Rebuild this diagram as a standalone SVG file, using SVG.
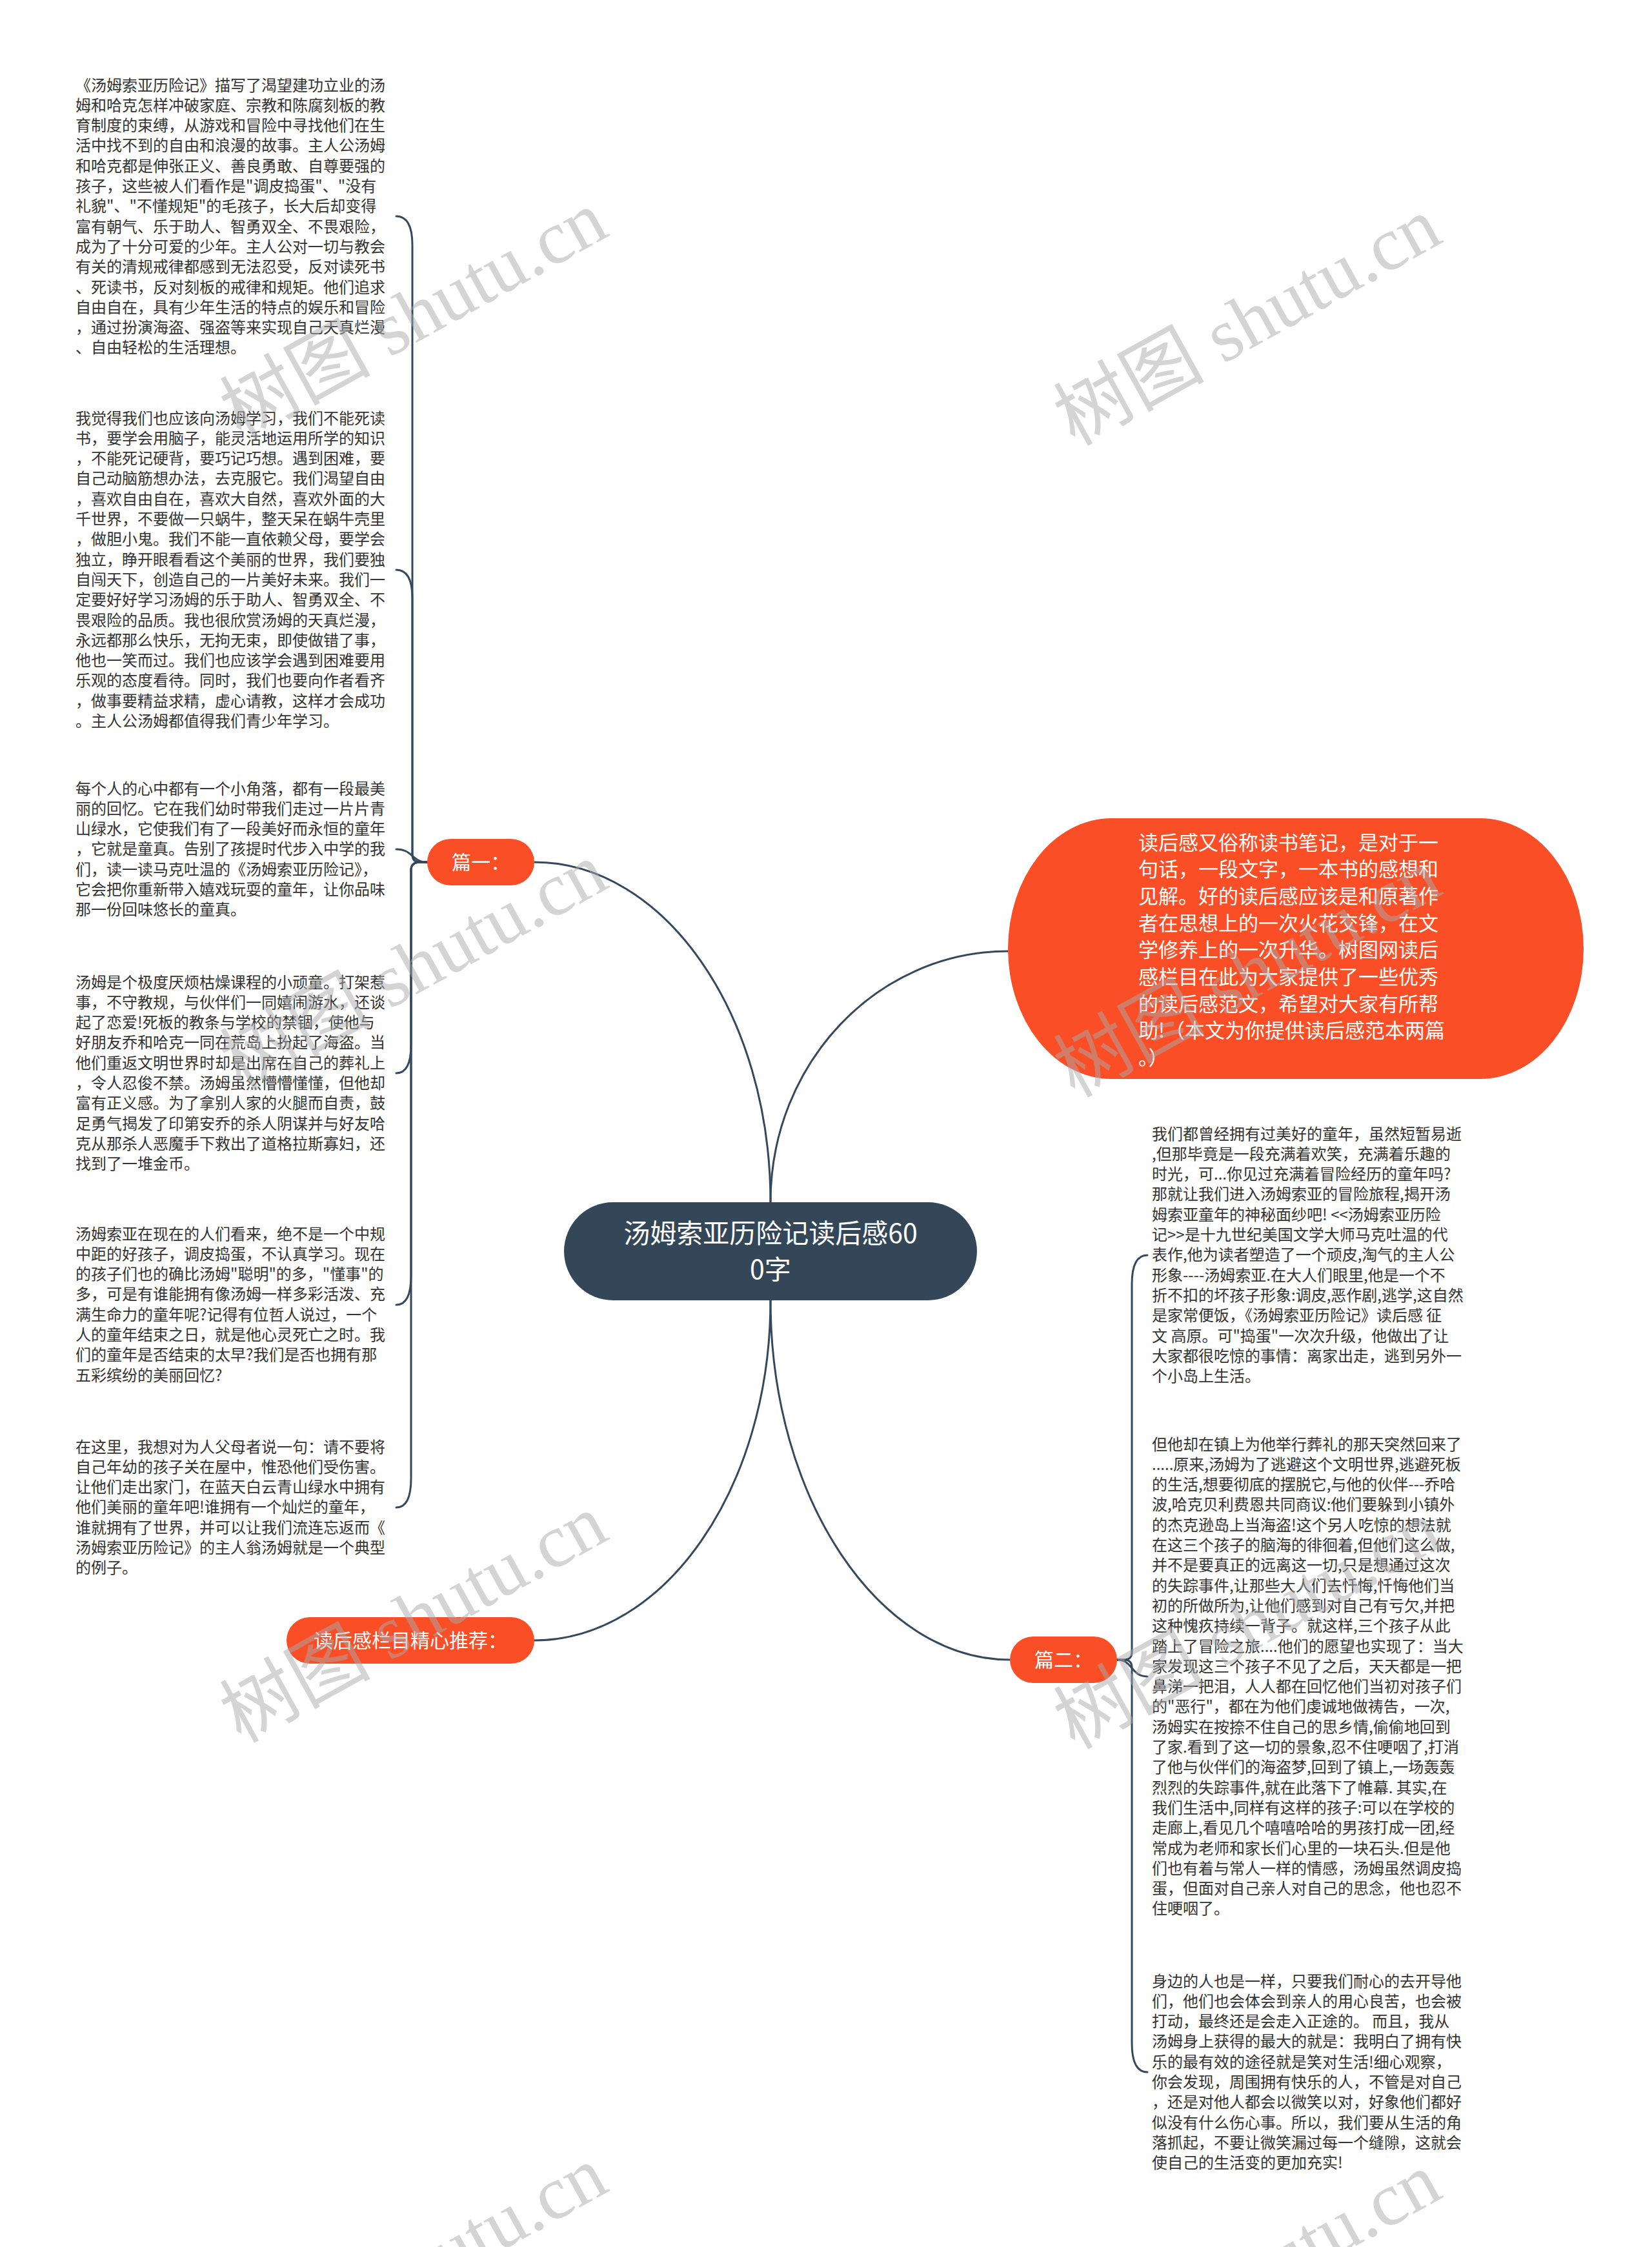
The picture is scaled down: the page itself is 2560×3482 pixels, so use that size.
<svg xmlns="http://www.w3.org/2000/svg" width="2560" height="3482" viewBox="0 0 2560 3482">
<style>
.bg{fill:#ffffff}
.conn{fill:none;stroke:#34495e;stroke-width:3;stroke-linecap:round}
.body{font-family:"Noto Sans CJK SC","Noto Sans",sans-serif;font-size:24px;fill:#333333}
.sum{font-family:"Noto Sans CJK SC","Noto Sans",sans-serif;font-size:31px;fill:#ffffff}
.title{font-family:"Noto Sans CJK SC","Noto Sans",sans-serif;font-size:41px;fill:#ffffff;text-anchor:middle}
.lab{font-family:"Noto Sans CJK SC","Noto Sans",sans-serif;font-size:30px;fill:#ffffff;text-anchor:middle}
.orange{fill:#fa4e26}
.dark{fill:#344759}
.wm{font-family:"Liberation Serif","Noto Sans CJK SC",serif;font-size:117px;fill:#aaaaaa;opacity:0.5}
</style>
<rect class="bg" x="0" y="0" width="2560" height="3482"/>

<g id="connectors">
  <path class="conn" d="M 828 1336 C 1030 1336, 1194 1572, 1194 1863"/>
  <path class="conn" d="M 1194 1863 C 1194 1648, 1359 1474, 1562 1474"/>
  <path class="conn" d="M 1194 2015 C 1194 2306, 1030 2542, 828 2542"/>
  <path class="conn" d="M 1194 2015 C 1194 2322, 1362 2572, 1565 2572"/>
  <path class="conn" d="M 662 1336 L 651 1336 Q 639 1336 639 1324 L 639 380 Q 639 335 614 335"/>
  <path class="conn" d="M 662 1336 L 651 1336 Q 639 1336 639 1324 L 639 927 Q 639 883 614 883"/>
  <path class="conn" d="M 662 1336 C 638 1336, 640 1316, 614 1316"/>
  <path class="conn" d="M 662 1336 L 651 1336 Q 637 1336 637 1348 L 637 1619 Q 637 1663 614 1663"/>
  <path class="conn" d="M 662 1336 L 651 1336 Q 637 1336 637 1348 L 637 1977 Q 637 2022 614 2022"/>
  <path class="conn" d="M 662 1336 L 651 1336 Q 637 1336 637 1348 L 637 2291 Q 637 2336 614 2336"/>
  <path class="conn" d="M 1731 2572 L 1742 2572 Q 1754 2572 1754 2560 L 1754 1990 Q 1754 1945 1778 1945"/>
  <path class="conn" d="M 1731 2572 C 1756 2572, 1752 2598, 1778 2598"/>
  <path class="conn" d="M 1731 2572 L 1742 2572 Q 1754 2572 1754 2584 L 1754 3166 Q 1754 3211 1778 3211"/>
</g>

<g id="node-root">
  <rect class="dark" x="874" y="1863" width="640" height="152" rx="76" ry="76"/>
  <text class="title" x="1194" y="1926">汤姆索亚历险记读后感60</text>
  <text class="title" x="1194" y="1982">0字</text>
</g>

<g id="node-summary">
  <rect class="orange" x="1562" y="1268" width="892" height="404" rx="160" ry="202"/>
  <text class="sum" x="1764" y="1316.5">
    <tspan x="1764">读后感又俗称读书笔记，是对于一</tspan>
    <tspan x="1764" dy="41.7">句话，一段文字，一本书的感想和</tspan>
    <tspan x="1764" dy="41.7">见解。好的读后感应该是和原著作</tspan>
    <tspan x="1764" dy="41.7">者在思想上的一次火花交锋，在文</tspan>
    <tspan x="1764" dy="41.7">学修养上的一次升华。树图网读后</tspan>
    <tspan x="1764" dy="41.7">感栏目在此为大家提供了一些优秀</tspan>
    <tspan x="1764" dy="41.7">的读后感范文，希望对大家有所帮</tspan>
    <tspan x="1764" dy="41.7">助!（本文为你提供读后感范本两篇</tspan>
    <tspan x="1764" dy="41.7">。）</tspan>
  </text>
</g>

<g id="node-pian1">
  <rect class="orange" x="662" y="1300" width="166" height="72" rx="36" ry="36"/>
  <text class="lab" x="745" y="1347">篇一：</text>
</g>

<g id="node-rec">
  <rect class="orange" x="444" y="2506" width="384" height="72" rx="36" ry="36"/>
  <text class="lab" x="636" y="2553">读后感栏目精心推荐：</text>
</g>

<g id="node-pian2">
  <rect class="orange" x="1565" y="2536" width="166" height="72" rx="36" ry="36"/>
  <text class="lab" x="1648" y="2583">篇二：</text>
</g>

<g id="node-l1">
  <text class="body" x="117" y="140.5">
    <tspan x="117">《汤姆索亚历险记》描写了渴望建功立业的汤</tspan>
    <tspan x="117" dy="31.3">姆和哈克怎样冲破家庭、宗教和陈腐刻板的教</tspan>
    <tspan x="117" dy="31.3">育制度的束缚，从游戏和冒险中寻找他们在生</tspan>
    <tspan x="117" dy="31.3">活中找不到的自由和浪漫的故事。主人公汤姆</tspan>
    <tspan x="117" dy="31.3">和哈克都是伸张正义、善良勇敢、自尊要强的</tspan>
    <tspan x="117" dy="31.3">孩子，这些被人们看作是"调皮捣蛋"、"没有</tspan>
    <tspan x="117" dy="31.3">礼貌"、"不懂规矩"的毛孩子，长大后却变得</tspan>
    <tspan x="117" dy="31.3">富有朝气、乐于助人、智勇双全、不畏艰险，</tspan>
    <tspan x="117" dy="31.3">成为了十分可爱的少年。主人公对一切与教会</tspan>
    <tspan x="117" dy="31.3">有关的清规戒律都感到无法忍受，反对读死书</tspan>
    <tspan x="117" dy="31.3">、死读书，反对刻板的戒律和规矩。他们追求</tspan>
    <tspan x="117" dy="31.3">自由自在，具有少年生活的特点的娱乐和冒险</tspan>
    <tspan x="117" dy="31.3">，通过扮演海盗、强盗等来实现自己天真烂漫</tspan>
    <tspan x="117" dy="31.3">、自由轻松的生活理想。</tspan>
  </text>
</g>

<g id="node-l2">
  <text class="body" x="117" y="656.5">
    <tspan x="117">我觉得我们也应该向汤姆学习，我们不能死读</tspan>
    <tspan x="117" dy="31.3">书，要学会用脑子，能灵活地运用所学的知识</tspan>
    <tspan x="117" dy="31.3">，不能死记硬背，要巧记巧想。遇到困难，要</tspan>
    <tspan x="117" dy="31.3">自己动脑筋想办法，去克服它。我们渴望自由</tspan>
    <tspan x="117" dy="31.3">，喜欢自由自在，喜欢大自然，喜欢外面的大</tspan>
    <tspan x="117" dy="31.3">千世界，不要做一只蜗牛，整天呆在蜗牛壳里</tspan>
    <tspan x="117" dy="31.3">，做胆小鬼。我们不能一直依赖父母，要学会</tspan>
    <tspan x="117" dy="31.3">独立，睁开眼看看这个美丽的世界，我们要独</tspan>
    <tspan x="117" dy="31.3">自闯天下，创造自己的一片美好未来。我们一</tspan>
    <tspan x="117" dy="31.3">定要好好学习汤姆的乐于助人、智勇双全、不</tspan>
    <tspan x="117" dy="31.3">畏艰险的品质。我也很欣赏汤姆的天真烂漫，</tspan>
    <tspan x="117" dy="31.3">永远都那么快乐，无拘无束，即使做错了事，</tspan>
    <tspan x="117" dy="31.3">他也一笑而过。我们也应该学会遇到困难要用</tspan>
    <tspan x="117" dy="31.3">乐观的态度看待。同时，我们也要向作者看齐</tspan>
    <tspan x="117" dy="31.3">，做事要精益求精，虚心请教，这样才会成功</tspan>
    <tspan x="117" dy="31.3">。主人公汤姆都值得我们青少年学习。</tspan>
  </text>
</g>

<g id="node-l3">
  <text class="body" x="117" y="1230.5">
    <tspan x="117">每个人的心中都有一个小角落，都有一段最美</tspan>
    <tspan x="117" dy="31.3">丽的回忆。它在我们幼时带我们走过一片片青</tspan>
    <tspan x="117" dy="31.3">山绿水，它使我们有了一段美好而永恒的童年</tspan>
    <tspan x="117" dy="31.3">，它就是童真。告别了孩提时代步入中学的我</tspan>
    <tspan x="117" dy="31.3">们，读一读马克吐温的《汤姆索亚历险记》，</tspan>
    <tspan x="117" dy="31.3">它会把你重新带入嬉戏玩耍的童年，让你品味</tspan>
    <tspan x="117" dy="31.3">那一份回味悠长的童真。</tspan>
  </text>
</g>

<g id="node-l4">
  <text class="body" x="117" y="1530.5">
    <tspan x="117">汤姆是个极度厌烦枯燥课程的小顽童。打架惹</tspan>
    <tspan x="117" dy="31.3">事，不守教规，与伙伴们一同嬉闹游水，还谈</tspan>
    <tspan x="117" dy="31.3">起了恋爱!死板的教条与学校的禁锢，使他与</tspan>
    <tspan x="117" dy="31.3">好朋友乔和哈克一同在荒岛上扮起了海盗。当</tspan>
    <tspan x="117" dy="31.3">他们重返文明世界时却是出席在自己的葬礼上</tspan>
    <tspan x="117" dy="31.3">，令人忍俊不禁。汤姆虽然懵懵懂懂，但他却</tspan>
    <tspan x="117" dy="31.3">富有正义感。为了拿别人家的火腿而自责，鼓</tspan>
    <tspan x="117" dy="31.3">足勇气揭发了印第安乔的杀人阴谋并与好友哈</tspan>
    <tspan x="117" dy="31.3">克从那杀人恶魔手下救出了道格拉斯寡妇，还</tspan>
    <tspan x="117" dy="31.3">找到了一堆金币。</tspan>
  </text>
</g>

<g id="node-l5">
  <text class="body" x="117" y="1920.5">
    <tspan x="117">汤姆索亚在现在的人们看来，绝不是一个中规</tspan>
    <tspan x="117" dy="31.3">中距的好孩子，调皮捣蛋，不认真学习。现在</tspan>
    <tspan x="117" dy="31.3">的孩子们也的确比汤姆"聪明"的多，"懂事"的</tspan>
    <tspan x="117" dy="31.3">多，可是有谁能拥有像汤姆一样多彩活泼、充</tspan>
    <tspan x="117" dy="31.3">满生命力的童年呢?记得有位哲人说过，一个</tspan>
    <tspan x="117" dy="31.3">人的童年结束之日，就是他心灵死亡之时。我</tspan>
    <tspan x="117" dy="31.3">们的童年是否结束的太早?我们是否也拥有那</tspan>
    <tspan x="117" dy="31.3">五彩缤纷的美丽回忆?</tspan>
  </text>
</g>

<g id="node-l6">
  <text class="body" x="117" y="2250.5">
    <tspan x="117">在这里，我想对为人父母者说一句：请不要将</tspan>
    <tspan x="117" dy="31.3">自己年幼的孩子关在屋中，惟恐他们受伤害。</tspan>
    <tspan x="117" dy="31.3">让他们走出家门，在蓝天白云青山绿水中拥有</tspan>
    <tspan x="117" dy="31.3">他们美丽的童年吧!谁拥有一个灿烂的童年，</tspan>
    <tspan x="117" dy="31.3">谁就拥有了世界，并可以让我们流连忘返而《</tspan>
    <tspan x="117" dy="31.3">汤姆索亚历险记》的主人翁汤姆就是一个典型</tspan>
    <tspan x="117" dy="31.3">的例子。</tspan>
  </text>
</g>

<g id="node-r1">
  <text class="body" x="1785" y="1765.5">
    <tspan x="1785">我们都曾经拥有过美好的童年，虽然短暂易逝</tspan>
    <tspan x="1785" dy="31.3">,但那毕竟是一段充满着欢笑，充满着乐趣的</tspan>
    <tspan x="1785" dy="31.3">时光，可...你见过充满着冒险经历的童年吗?</tspan>
    <tspan x="1785" dy="31.3">那就让我们进入汤姆索亚的冒险旅程,揭开汤</tspan>
    <tspan x="1785" dy="31.3">姆索亚童年的神秘面纱吧! &lt;&lt;汤姆索亚历险</tspan>
    <tspan x="1785" dy="31.3">记&gt;&gt;是十九世纪美国文学大师马克吐温的代</tspan>
    <tspan x="1785" dy="31.3">表作,他为读者塑造了一个顽皮,淘气的主人公</tspan>
    <tspan x="1785" dy="31.3">形象----汤姆索亚.在大人们眼里,他是一个不</tspan>
    <tspan x="1785" dy="31.3">折不扣的坏孩子形象:调皮,恶作剧,逃学,这自然</tspan>
    <tspan x="1785" dy="31.3">是家常便饭，《汤姆索亚历险记》读后感 征</tspan>
    <tspan x="1785" dy="31.3">文 高原。可"捣蛋"一次次升级，他做出了让</tspan>
    <tspan x="1785" dy="31.3">大家都很吃惊的事情：离家出走，逃到另外一</tspan>
    <tspan x="1785" dy="31.3">个小岛上生活。</tspan>
  </text>
</g>

<g id="node-r2">
  <text class="body" x="1785" y="2246.5">
    <tspan x="1785">但他却在镇上为他举行葬礼的那天突然回来了</tspan>
    <tspan x="1785" dy="31.3">.....原来,汤姆为了逃避这个文明世界,逃避死板</tspan>
    <tspan x="1785" dy="31.3">的生活,想要彻底的摆脱它,与他的伙伴---乔哈</tspan>
    <tspan x="1785" dy="31.3">波,哈克贝利费恩共同商议:他们要躲到小镇外</tspan>
    <tspan x="1785" dy="31.3">的杰克逊岛上当海盗!这个另人吃惊的想法就</tspan>
    <tspan x="1785" dy="31.3">在这三个孩子的脑海的徘徊着,但他们这么做,</tspan>
    <tspan x="1785" dy="31.3">并不是要真正的远离这一切,只是想通过这次</tspan>
    <tspan x="1785" dy="31.3">的失踪事件,让那些大人们去忏悔,忏悔他们当</tspan>
    <tspan x="1785" dy="31.3">初的所做所为,让他们感到对自己有亏欠,并把</tspan>
    <tspan x="1785" dy="31.3">这种愧疚持续一背子。就这样,三个孩子从此</tspan>
    <tspan x="1785" dy="31.3">踏上了冒险之旅....他们的愿望也实现了：当大</tspan>
    <tspan x="1785" dy="31.3">家发现这三个孩子不见了之后，天天都是一把</tspan>
    <tspan x="1785" dy="31.3">鼻涕一把泪，人人都在回忆他们当初对孩子们</tspan>
    <tspan x="1785" dy="31.3">的"恶行"，都在为他们虔诚地做祷告，一次,</tspan>
    <tspan x="1785" dy="31.3">汤姆实在按捺不住自己的思乡情,偷偷地回到</tspan>
    <tspan x="1785" dy="31.3">了家.看到了这一切的景象,忍不住哽咽了,打消</tspan>
    <tspan x="1785" dy="31.3">了他与伙伴们的海盗梦,回到了镇上,一场轰轰</tspan>
    <tspan x="1785" dy="31.3">烈烈的失踪事件,就在此落下了帷幕. 其实,在</tspan>
    <tspan x="1785" dy="31.3">我们生活中,同样有这样的孩子:可以在学校的</tspan>
    <tspan x="1785" dy="31.3">走廊上,看见几个嘻嘻哈哈的男孩打成一团,经</tspan>
    <tspan x="1785" dy="31.3">常成为老师和家长们心里的一块石头.但是他</tspan>
    <tspan x="1785" dy="31.3">们也有着与常人一样的情感，汤姆虽然调皮捣</tspan>
    <tspan x="1785" dy="31.3">蛋，但面对自己亲人对自己的思念，他也忍不</tspan>
    <tspan x="1785" dy="31.3">住哽咽了。</tspan>
  </text>
</g>

<g id="node-r3">
  <text class="body" x="1785" y="3078.5">
    <tspan x="1785">身边的人也是一样，只要我们耐心的去开导他</tspan>
    <tspan x="1785" dy="31.3">们，他们也会体会到亲人的用心良苦，也会被</tspan>
    <tspan x="1785" dy="31.3">打动，最终还是会走入正途的。 而且，我从</tspan>
    <tspan x="1785" dy="31.3">汤姆身上获得的最大的就是：我明白了拥有快</tspan>
    <tspan x="1785" dy="31.3">乐的最有效的途径就是笑对生活!细心观察，</tspan>
    <tspan x="1785" dy="31.3">你会发现，周围拥有快乐的人，不管是对自己</tspan>
    <tspan x="1785" dy="31.3">，还是对他人都会以微笑以对，好象他们都好</tspan>
    <tspan x="1785" dy="31.3">似没有什么伤心事。所以，我们要从生活的角</tspan>
    <tspan x="1785" dy="31.3">落抓起，不要让微笑漏过每一个缝隙，这就会</tspan>
    <tspan x="1785" dy="31.3">使自己的生活变的更加充实!</tspan>
  </text>
</g>

<g id="watermarks">
  <text class="wm" transform="translate(373 682) rotate(-29)">树图 shutu.cn</text>
  <text class="wm" transform="translate(1665 692) rotate(-29)">树图 shutu.cn</text>
  <text class="wm" transform="translate(373 1692) rotate(-29)">树图 shutu.cn</text>
  <text class="wm" transform="translate(1665 1702) rotate(-29)">树图 shutu.cn</text>
  <text class="wm" transform="translate(373 2702) rotate(-29)">树图 shutu.cn</text>
  <text class="wm" transform="translate(1665 2712) rotate(-29)">树图 shutu.cn</text>
  <text class="wm" transform="translate(373 3712) rotate(-29)">树图 shutu.cn</text>
  <text class="wm" transform="translate(1665 3722) rotate(-29)">树图 shutu.cn</text>
</g>
</svg>
